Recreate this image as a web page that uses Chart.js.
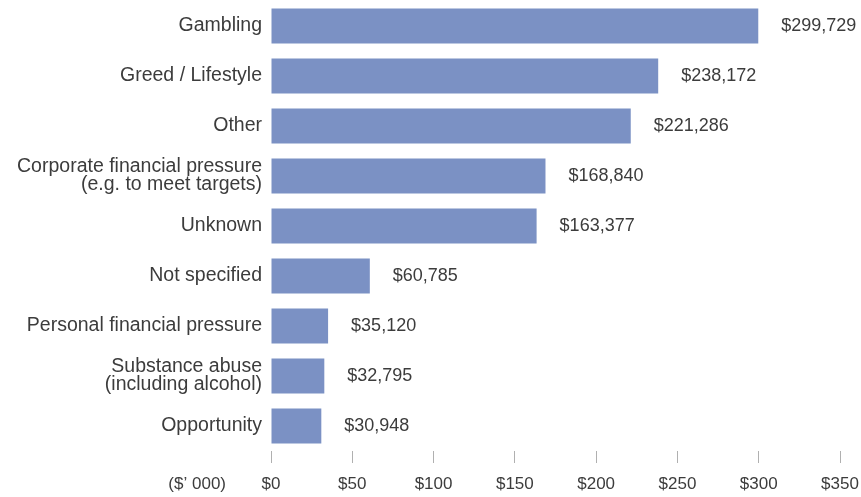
<!DOCTYPE html>
<html>
<head>
<meta charset="utf-8">
<script src="https://cdn.jsdelivr.net/npm/chart.js@4"></script>
<style>
  html, body { margin: 0; padding: 0; background: #fff; }
  #wrap { width: 861px; height: 497px; }
</style>
</head>
<body>
<div id="wrap"><canvas id="motiveChart"></canvas></div>
<script>
const categories = [
    "Gambling",
    "Greed / Lifestyle",
    "Other",
    ["Corporate financial pressure", "(e.g. to meet targets)"],
    "Unknown",
    "Not specified",
    "Personal financial pressure",
    ["Substance abuse", "(including alcohol)"],
    "Opportunity",
];
const averageLoss = [299729, 238172, 221286, 168840, 163377, 60785, 35120, 32795, 30948];
const tickValues = [0, 50000, 100000, 150000, 200000, 250000, 300000, 350000];

const FONT = "'Liberation Sans', Arial, sans-serif";
const TEXT = "#3c3c3c";

// dollar amount printed to the right of each bar, plus the unit note under the y labels
const valueLabels = {
    id: "valueLabels",
    afterDatasetsDraw(chart) {
        const ctx = chart.ctx;
        const meta = chart.getDatasetMeta(0);
        ctx.save();
        ctx.font = "18px " + FONT;
        ctx.fillStyle = TEXT;
        ctx.textAlign = "left";
        ctx.textBaseline = "middle";
        meta.data.forEach((bar, i) => {
            ctx.fillText("$" + averageLoss[i].toLocaleString("en-US"), bar.x + 23, bar.y);
        });
        const xs = chart.scales.x;
        ctx.font = "17px " + FONT;
        ctx.textAlign = "right";
        ctx.fillText("($\u2019 000)", 226, xs.top + 33);
        ctx.restore();
    },
};

// keep the plot area pinned to fixed edges, ignoring label overhang
const noOverhang = (scale) => {
    scale.paddingTop = 0;
    scale.paddingBottom = 0;
    scale.paddingLeft = 0;
    scale.paddingRight = 0;
};

new Chart(document.getElementById("motiveChart"), {
    type: "bar",
    data: {
        labels: categories,
        datasets: [
            {
                data: averageLoss,
                backgroundColor: "#7b91c4",
                categoryPercentage: 1,
                barPercentage: 0.7,
            },
        ],
    },
    options: {
        indexAxis: "y",
        responsive: true,
        maintainAspectRatio: false,
        animation: false,
        layout: { padding: { top: 1, right: 21, left: 0, bottom: 0 } },
        plugins: {
            legend: { display: false },
            tooltip: { enabled: false },
        },
        scales: {
            x: {
                min: 0,
                max: 350000,
                afterBuildTicks: (scale) => {
                    scale.ticks = tickValues.map((v) => ({ value: v }));
                },
                afterFit: (scale) => {
                    scale.height = 46;
                    noOverhang(scale);
                },
                grid: {
                    drawOnChartArea: false,
                    drawTicks: true,
                    tickLength: 12,
                    color: "#b0b0b0",
                },
                border: { display: false },
                ticks: {
                    padding: 11,
                    color: TEXT,
                    font: { family: FONT, size: 17 },
                    callback: (v) => "$" + v / 1000,
                },
            },
            y: {
                afterFit: (scale) => {
                    scale.width = 271;
                    noOverhang(scale);
                },
                grid: { display: false },
                border: { display: false },
                ticks: {
                    padding: 1,
                    color: TEXT,
                    font: { family: FONT, size: 19.5, lineHeight: 0.92 },
                },
            },
        },
    },
    plugins: [valueLabels],
});
</script>
</body>
</html>
